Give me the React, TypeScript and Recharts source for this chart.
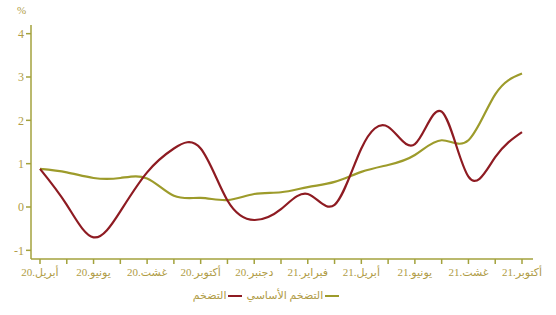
import { LineChart, Line, XAxis, YAxis } from "recharts";

const MONTHS = [
  "أبريل.20", "ماي.20", "يونيو.20", "يوليوز.20", "غشت.20", "شتنبر.20", "أكتوبر.20",
  "نونبر.20", "دجنبر.20", "يناير.21", "فبراير.21", "مارس.21", "أبريل.21", "ماي.21",
  "يونيو.21", "يوليوز.21", "غشت.21", "شتنبر.21", "أكتوبر.21",
];

// headline inflation (red)
const INFLATION = [0.88, 0.05, -0.7, -0.1, 0.8, 1.35, 1.35, 0.15, -0.3, -0.05, 0.3, 0.05, 1.35, 1.85, 1.45, 2.2, 0.7, 1.15, 1.73];
// core inflation (olive)
const CORE = [0.88, 0.8, 0.67, 0.67, 0.66, 0.26, 0.21, 0.16, 0.3, 0.34, 0.46, 0.58, 0.81, 0.97, 1.2, 1.54, 1.54, 2.6, 3.08];

const Y_TICKS = [-1, 0, 1, 2, 3, 4];

const SERIES_NAMES = { inflation: "التضخم", core: "التضخم الأساسي" };

const OLIVE = "#9d9b2b";
const RED = "#8e1b22";
const AXIS = "#a3a23c";
const TEXT = "#b09c46";
const FONT = "'Liberation Serif', 'DejaVu Sans', serif";

const data = MONTHS.map((m, i) => ({ month: m, inflation: INFLATION[i], core: CORE[i] }));

const MonthTick = (props: any) => {
  const { x, y, payload, index } = props;
  if (index % 2 !== 0) return <g />;
  return (
    <text x={x} y={y + 10} textAnchor="middle" fill={TEXT} fontSize={11} fontFamily={FONT}>
      {payload.value}
    </text>
  );
};

export default function App() {
  return (
    <div style={{ position: "absolute", left: 0, top: 0, width: 556, height: 315, background: "#fff" }}>
      <div style={{ position: "absolute", left: 17, top: 4, fontSize: 11, color: TEXT, fontFamily: FONT }}>%</div>
      <LineChart width={556} height={315} data={data} margin={{ top: 25, right: 23, bottom: 36, left: 0 }}>
        <XAxis
          dataKey="month"
          interval={0}
          padding={{ left: 9, right: 11 }}
          stroke={AXIS}
          strokeWidth={1.5}
          tickSize={5}
          tick={<MonthTick />}
          height={20}
        />
        <YAxis
          domain={[-1.2, 4.2]}
          ticks={Y_TICKS}
          width={31}
          stroke={AXIS}
          strokeWidth={1.5}
          tickSize={5}
          tick={{ fill: TEXT, fontSize: 12, fontFamily: FONT }}
        />
        <Line type="natural" dataKey="core" stroke={OLIVE} strokeWidth={2.2} dot={false} isAnimationActive={false} />
        <Line type="natural" dataKey="inflation" stroke={RED} strokeWidth={2.2} dot={false} isAnimationActive={false} />
      </LineChart>
      <div
        style={{
          position: "absolute", top: 289, left: 0, width: 556, display: "flex", justifyContent: "center",
          direction: "rtl", fontSize: 11, color: TEXT, fontFamily: FONT, gap: 4, paddingRight: 24,
          boxSizing: "border-box",
        }}
      >
        {[
          { name: SERIES_NAMES.core, color: OLIVE },
          { name: SERIES_NAMES.inflation, color: RED },
        ].map((it) => (
          <span key={it.name} style={{ display: "flex", alignItems: "center", gap: 2 }}>
            <span style={{ display: "inline-block", width: 14, height: 2, background: it.color }} />
            <span>{it.name}</span>
          </span>
        ))}
      </div>
    </div>
  );
}
